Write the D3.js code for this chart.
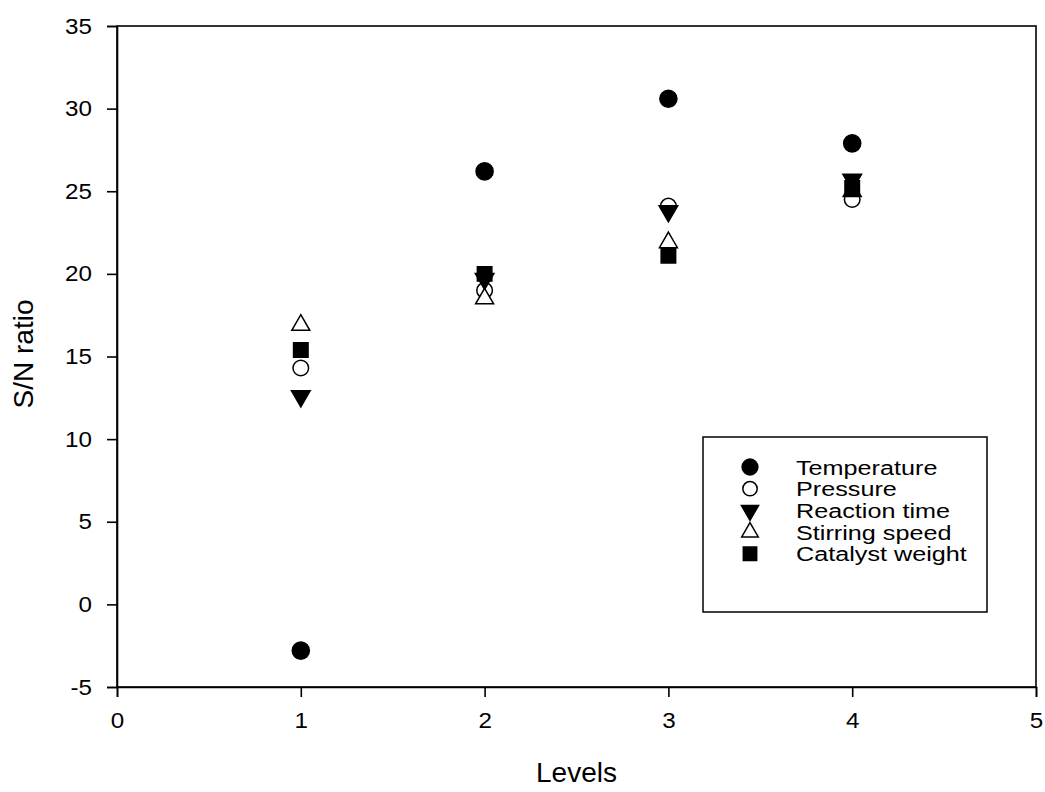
<!DOCTYPE html>
<html><head><meta charset="utf-8">
<script src="https://cdn.jsdelivr.net/npm/d3@7"></script>
<style>body{margin:0;background:#fff}svg{display:block}text{font-family:"Liberation Sans",Arial,sans-serif;fill:#000}</style>
</head><body><svg id="c" width="1045" height="792"></svg>
<script>
const levels = [1, 2, 3, 4];
const temperature = [-2.8, 26.2, 30.6, 27.9];
const pressure = [14.3, 19.0, 24.1, 24.5];
const reactionTime = [12.6, 19.7, 23.8, 25.7];
const stirringSpeed = [16.9, 18.5, 21.9, 25.0];
const catalystWeight = [15.4, 20.0, 21.1, 25.2];
const seriesNames = ["Temperature", "Pressure", "Reaction time", "Stirring speed", "Catalyst weight"];
const xTicks = [0, 1, 2, 3, 4, 5];
const yTicks = [-5, 0, 5, 10, 15, 20, 25, 30, 35];

const series = [
  {name: seriesNames[0], values: temperature, sym: d3.symbolCircle, fill: "#000", size: 230},
  {name: seriesNames[1], values: pressure, sym: d3.symbolCircle, fill: "#fff", size: 190},
  {name: seriesNames[2], values: reactionTime, sym: d3.symbolTriangle, fill: "#000", size: 150, flip: true},
  {name: seriesNames[3], values: stirringSpeed, sym: d3.symbolTriangle, fill: "#fff", size: 140},
  {name: seriesNames[4], values: catalystWeight, sym: d3.symbolSquare, fill: "#000", size: 210}
];

const svg = d3.select("#c");
const L = 117, R = 1036, T = 26, B = 687;
const x = d3.scaleLinear().domain([0, 5]).range([L, R]);
const y = d3.scaleLinear().domain([-5, 35]).range([B, T]);

svg.append("rect").attr("x", L).attr("y", T).attr("width", R - L).attr("height", B - T)
  .attr("fill", "none").attr("stroke", "#000").attr("stroke-width", 1.6);

const fmt = d => String(d);
const xa = svg.append("g").attr("transform", `translate(0,${B})`)
  .call(d3.axisBottom(x).tickValues(xTicks).tickSize(10).tickPadding(15).tickFormat(fmt));
const ya = svg.append("g").attr("transform", `translate(${L},0)`)
  .call(d3.axisLeft(y).tickValues(yTicks).tickSize(10).tickPadding(15).tickFormat(fmt));
[xa, ya].forEach(a => {
  a.attr("font-size", 22).attr("font-family", '"Liberation Sans",Arial,sans-serif');
  a.select(".domain").attr("stroke", "#000").attr("stroke-width", 1.6);
  a.selectAll(".tick line").attr("stroke", "#000").attr("stroke-width", 1.6);
  a.selectAll(".tick text").style("font-size", "22px").attr("fill", "#000");
});
ya.selectAll(".tick text").each(function() {
  const t = d3.select(this); const tx = +t.attr("x");
  t.attr("x", 0).attr("transform", `translate(${tx},0) scale(1.1,1)`);
});
xa.selectAll(".tick text").attr("transform", "scale(1.1,1)");

svg.append("text").attr("x", (L + R) / 2).attr("y", 782).attr("text-anchor", "middle")
  .style("font-size", "28px").text("Levels");
svg.append("text").attr("transform", `translate(33,354) rotate(-90)`).attr("text-anchor", "middle")
  .style("font-size", "28px").text("S/N ratio");

function drawSym(g, s, cx, cy) {
  g.append("path").attr("d", d3.symbol().type(s.sym).size(s.size)())
    .attr("transform", `translate(${cx},${cy})` + (s.flip ? " rotate(180)" : ""))
    .attr("fill", s.fill).attr("stroke", "#000").attr("stroke-width", 1.5);
}

const pg = svg.append("g");
series.forEach(s => {
  s.values.forEach((v, i) => drawSym(pg, s, x(levels[i]), y(v)));
});

const lg = svg.append("g");
lg.append("rect").attr("x", 703).attr("y", 437).attr("width", 284).attr("height", 175)
  .attr("fill", "#fff").attr("stroke", "#000").attr("stroke-width", 1.5);
series.forEach((s, i) => {
  const cy = 467 + i * 21.7;
  drawSym(lg, Object.assign({}, s, {size: s.size * 0.85}), 750, cy);
  lg.append("text").attr("transform", `translate(796,${cy + 7.5}) scale(1.2,0.95)`)
    .style("font-size", "21px").text(s.name);
});
</script></body></html>
